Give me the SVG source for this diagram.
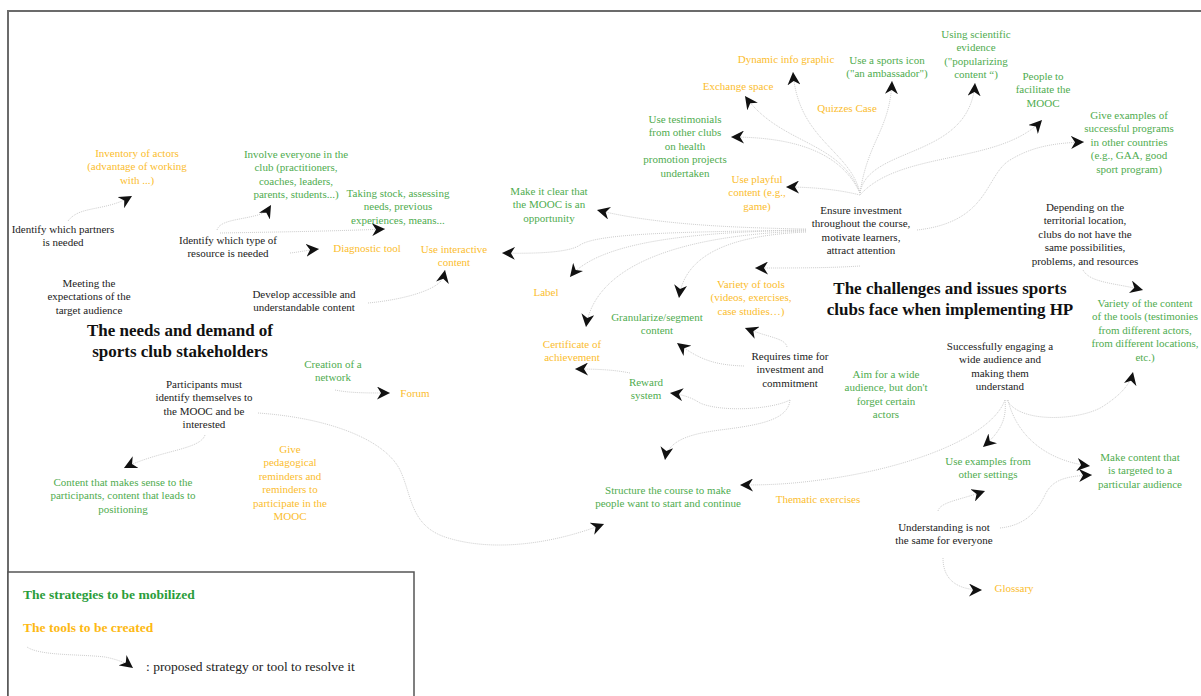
<svg xmlns="http://www.w3.org/2000/svg" width="1201" height="696" viewBox="0 0 1201 696">
<defs>
<style>
text{font-family:"Liberation Serif","Times New Roman",serif;font-size:11px;text-anchor:middle}
.need{fill:#222}
.strat{fill:#4fac4f}
.tool{fill:#fbbd2e}
.title{font-weight:bold;font-size:17px;fill:#111}
.lg{text-anchor:start;font-weight:bold;font-size:13.5px}
.conn path{fill:none;stroke:#cdcdcd;stroke-width:1;stroke-dasharray:1 1;marker-end:url(#ah)}
</style>
<marker id="ah" viewBox="0 0 13 13" markerWidth="13" markerHeight="13" refX="13" refY="6.5" orient="auto" markerUnits="userSpaceOnUse">
<path d="M0,0 L13,6.5 L0,13 L4,6.5 Z" fill="#111"/>
</marker>
</defs>
<rect width="1201" height="696" fill="#fff"/>
<g id="frame" fill="none" stroke="#6b6b6b" stroke-width="2">
<path d="M8,696 L8,11 L1201,11"/>
</g>

<g id="connectors" class="conn">
<path d="M68,221 C80,205 105,212 132,196"/>
<path d="M217,230 C220,220 240,220 258,215 C264,213 268,210 271,205"/>
<path d="M220,233 C280,232 340,231 385,229"/>
<path d="M290,253 C300,252 308,250 319,249"/>
<path d="M368,303 C400,300 430,292 440,282 C443,278 444,275 445,270"/>
<path d="M860,193 C850,150 798,140 793,72"/>
<path d="M860,193 C840,140 780,145 745,96"/>
<path d="M860,193 C840,150 790,137 731,137"/>
<path d="M860,195 C840,190 815,187 786,187"/>
<path d="M860,193 C868,140 890,130 892,81"/>
<path d="M860,193 C868,145 970,160 975,83"/>
<path d="M860,195 C900,150 1000,165 1042,120"/>
<path d="M806,229 C750,228 660,226 597,210"/>
<path d="M806,230 C700,232 600,232 580,245 C570,252 540,254 502,253"/>
<path d="M806,230 C700,232 600,240 570,277"/>
<path d="M806,231 C680,235 595,265 586,327"/>
<path d="M806,232 C740,235 685,250 679,298"/>
<path d="M860,266 C830,268 800,268 755,268"/>
<path d="M917,230 C990,222 985,175 1010,160 C1030,148 1050,143 1084,142"/>
<path d="M1083,270 C1090,283 1115,283 1143,290"/>
<path d="M1007,400 C1020,425 1085,420 1105,405 C1120,395 1130,385 1133,372"/>
<path d="M1005,400 C1007,420 1000,432 983,447"/>
<path d="M1005,400 C990,440 900,470 820,480 C790,484 770,485 740,485"/>
<path d="M1008,400 C1015,430 1040,460 1090,466"/>
<path d="M1000,528 C1030,525 1040,505 1045,495 C1052,480 1065,476 1092,475"/>
<path d="M938,511 C940,502 960,500 985,491"/>
<path d="M943,558 C943,578 955,590 982,590"/>
<path d="M787,347 C785,338 770,338 745,328"/>
<path d="M744,366 C715,365 700,360 677,343"/>
<path d="M630,373 C615,370 600,369 575,369"/>
<path d="M790,400 C770,410 720,412 700,403 C692,398 685,395 670,393"/>
<path d="M790,400 C788,420 760,425 720,430 C690,434 668,440 665,460"/>
<path d="M205,435 C200,450 160,450 124,468"/>
<path d="M258,413 C330,418 385,440 400,470 C412,495 410,525 445,537 C490,552 550,545 604,524"/>
<path d="M335,390 C350,393 365,393 390,393"/>
</g>

<g id="n-inventory"><text class="tool" x="137" y="157"><tspan x="137">Inventory of actors</tspan><tspan x="137" dy="13.4">(advantage of working</tspan><tspan x="137" dy="13.4">with ...)</tspan></text></g>
<g id="n-partners"><text class="need" x="63" y="233"><tspan x="63">Identify which partners</tspan><tspan x="63" dy="13.4">is needed</tspan></text></g>
<g id="n-involve"><text class="strat" x="296" y="158"><tspan x="296">Involve everyone in the</tspan><tspan x="296" dy="13.4">club (practitioners,</tspan><tspan x="296" dy="13.4">coaches, leaders,</tspan><tspan x="296" dy="13.4">parents, students...)</tspan></text></g>
<g id="n-taking"><text class="strat" x="398" y="197"><tspan x="398">Taking stock, assessing</tspan><tspan x="398" dy="13.4">needs, previous</tspan><tspan x="398" dy="13.4">experiences, means...</tspan></text></g>
<g id="n-idtype"><text class="need" x="228" y="244"><tspan x="228">Identify which type of</tspan><tspan x="228" dy="13.4">resource is needed</tspan></text></g>
<g id="n-diag"><text class="tool" x="367" y="252">Diagnostic tool</text></g>
<g id="n-meeting"><text class="need" x="89" y="287"><tspan x="89">Meeting the</tspan><tspan x="89" dy="13.4">expectations of the</tspan><tspan x="89" dy="13.4">target audience</tspan></text></g>
<g id="n-develop"><text class="need" x="304" y="298"><tspan x="304">Develop accessible and</tspan><tspan x="304" dy="13.4">understandable content</tspan></text></g>
<g id="t-needs"><text class="title" x="180" y="336"><tspan x="180">The needs and demand of</tspan><tspan x="180" dy="20.5">sports club stakeholders</tspan></text></g>
<g id="n-interactive"><text class="tool" x="454" y="253"><tspan x="454">Use interactive</tspan><tspan x="454" dy="13.4">content</tspan></text></g>
<g id="n-label"><text class="tool" x="546" y="296">Label</text></g>
<g id="n-makeclear"><text class="strat" x="549" y="195"><tspan x="549">Make it clear that</tspan><tspan x="549" dy="13.4">the MOOC is an</tspan><tspan x="549" dy="13.4">opportunity</tspan></text></g>
<g id="n-testimonials"><text class="strat" x="685" y="123"><tspan x="685">Use testimonials</tspan><tspan x="685" dy="13.4">from other clubs</tspan><tspan x="685" dy="13.4">on health</tspan><tspan x="685" dy="13.4">promotion projects</tspan><tspan x="685" dy="13.4">undertaken</tspan></text></g>
<g id="n-exchange"><text class="tool" x="738" y="90">Exchange space</text></g>
<g id="n-dynamic"><text class="tool" x="786" y="63">Dynamic info graphic</text></g>
<g id="n-playful"><text class="tool" x="757" y="183"><tspan x="757">Use playful</tspan><tspan x="757" dy="13.4">content (e.g.,</tspan><tspan x="757" dy="13.4">game)</tspan></text></g>
<g id="n-icon"><text class="strat" x="887" y="64"><tspan x="887">Use a sports icon</tspan><tspan x="887" dy="13.4">("an ambassador")</tspan></text></g>
<g id="n-scientific"><text class="strat" x="976" y="38"><tspan x="976">Using scientific</tspan><tspan x="976" dy="13.4">evidence</tspan><tspan x="976" dy="13.4">("popularizing</tspan><tspan x="976" dy="13.4">content “)</tspan></text></g>
<g id="n-quizzes"><text class="tool" x="847" y="112">Quizzes Case</text></g>
<g id="n-people"><text class="strat" x="1043" y="80"><tspan x="1043">People to</tspan><tspan x="1043" dy="13.4">facilitate the</tspan><tspan x="1043" dy="13.4">MOOC</tspan></text></g>
<g id="n-giveex"><text class="strat" x="1129" y="119"><tspan x="1129">Give examples of</tspan><tspan x="1129" dy="13.4">successful programs</tspan><tspan x="1129" dy="13.4">in other countries</tspan><tspan x="1129" dy="13.4">(e.g., GAA, good</tspan><tspan x="1129" dy="13.4">sport program)</tspan></text></g>
<g id="n-ensure"><text class="need" x="861" y="214"><tspan x="861">Ensure investment</tspan><tspan x="861" dy="13.4">throughout the course,</tspan><tspan x="861" dy="13.4">motivate learners,</tspan><tspan x="861" dy="13.4">attract attention</tspan></text></g>
<g id="n-depending"><text class="need" x="1085" y="211"><tspan x="1085">Depending on the</tspan><tspan x="1085" dy="13.4">territorial location,</tspan><tspan x="1085" dy="13.4">clubs do not have the</tspan><tspan x="1085" dy="13.4">same possibilities,</tspan><tspan x="1085" dy="13.4">problems, and resources</tspan></text></g>
<g id="t-challenges"><text class="title" x="950" y="294"><tspan x="950">The challenges and issues sports</tspan><tspan x="950" dy="21">clubs face when implementing HP</tspan></text></g>
<g id="n-varcontent"><text class="strat" x="1145" y="307"><tspan x="1145">Variety of the content</tspan><tspan x="1145" dy="13.4">of the tools (testimonies</tspan><tspan x="1145" dy="13.4">from different actors,</tspan><tspan x="1145" dy="13.4">from different locations,</tspan><tspan x="1145" dy="13.4">etc.)</tspan></text></g>
<g id="n-successfully"><text class="need" x="1000" y="350"><tspan x="1000">Successfully engaging a</tspan><tspan x="1000" dy="13.4">wide audience and</tspan><tspan x="1000" dy="13.4">making them</tspan><tspan x="1000" dy="13.4">understand</tspan></text></g>
<g id="n-aim"><text class="strat" x="886" y="378"><tspan x="886">Aim for a wide</tspan><tspan x="886" dy="13.4">audience, but don't</tspan><tspan x="886" dy="13.4">forget certain</tspan><tspan x="886" dy="13.4">actors</tspan></text></g>
<g id="n-requires"><text class="need" x="790" y="360"><tspan x="790">Requires time for</tspan><tspan x="790" dy="13.4">investment and</tspan><tspan x="790" dy="13.4">commitment</tspan></text></g>
<g id="n-vartools"><text class="tool" x="751" y="288"><tspan x="751">Variety of tools</tspan><tspan x="751" dy="13.4">(videos, exercises,</tspan><tspan x="751" dy="13.4">case studies…)</tspan></text></g>
<g id="n-granular"><text class="strat" x="657" y="321"><tspan x="657">Granularize/segment</tspan><tspan x="657" dy="13.4">content</tspan></text></g>
<g id="n-certificate"><text class="tool" x="572" y="348"><tspan x="572">Certificate of</tspan><tspan x="572" dy="13.4">achievement</tspan></text></g>
<g id="n-reward"><text class="strat" x="646" y="386"><tspan x="646">Reward</tspan><tspan x="646" dy="13.4">system</tspan></text></g>
<g id="n-forum"><text class="tool" x="415" y="397">Forum</text></g>
<g id="n-creation"><text class="strat" x="333" y="368"><tspan x="333">Creation of a</tspan><tspan x="333" dy="13.4">network</tspan></text></g>
<g id="n-participants"><text class="need" x="204" y="388"><tspan x="204">Participants must</tspan><tspan x="204" dy="13.4">identify themselves to</tspan><tspan x="204" dy="13.4">the MOOC and be</tspan><tspan x="204" dy="13.4">interested</tspan></text></g>
<g id="n-contentsense"><text class="strat" x="123" y="486"><tspan x="123">Content that makes sense to the</tspan><tspan x="123" dy="13.4">participants, content that leads to</tspan><tspan x="123" dy="13.4">positioning</tspan></text></g>
<g id="n-reminders"><text class="tool" x="290" y="453"><tspan x="290">Give</tspan><tspan x="290" dy="13.4">pedagogical</tspan><tspan x="290" dy="13.4">reminders and</tspan><tspan x="290" dy="13.4">reminders to</tspan><tspan x="290" dy="13.4">participate in the</tspan><tspan x="290" dy="13.4">MOOC</tspan></text></g>
<g id="n-structure"><text class="strat" x="668" y="494"><tspan x="668">Structure the course to make</tspan><tspan x="668" dy="13.4">people want to start and continue</tspan></text></g>
<g id="n-thematic"><text class="tool" x="818" y="503">Thematic exercises</text></g>
<g id="n-useex"><text class="strat" x="988" y="465"><tspan x="988">Use examples from</tspan><tspan x="988" dy="13.4">other settings</tspan></text></g>
<g id="n-makecontent"><text class="strat" x="1140" y="461"><tspan x="1140">Make content that</tspan><tspan x="1140" dy="13.4">is targeted to a</tspan><tspan x="1140" dy="13.4">particular audience</tspan></text></g>
<g id="n-understanding"><text class="need" x="944" y="531"><tspan x="944">Understanding is not</tspan><tspan x="944" dy="13.4">the same for everyone</tspan></text></g>
<g id="n-glossary"><text class="tool" x="1014" y="592">Glossary</text></g>

<g id="legend">
<rect x="8" y="572" width="406" height="130" fill="#fff" stroke="#555" stroke-width="1.5"/>
<text class="lg" x="23" y="599" fill="#2a9d3a">The strategies to be mobilized</text>
<text class="lg" x="23" y="632" fill="#fdb913">The tools to be created</text>
<g class="conn"><path d="M27,647 C40,656 80,654 105,657 C115,659 125,662 133,668"/></g>
<text x="146" y="671" style="text-anchor:start;font-size:13.5px;fill:#222">: proposed strategy or tool to resolve it</text>
</g>
</svg>
